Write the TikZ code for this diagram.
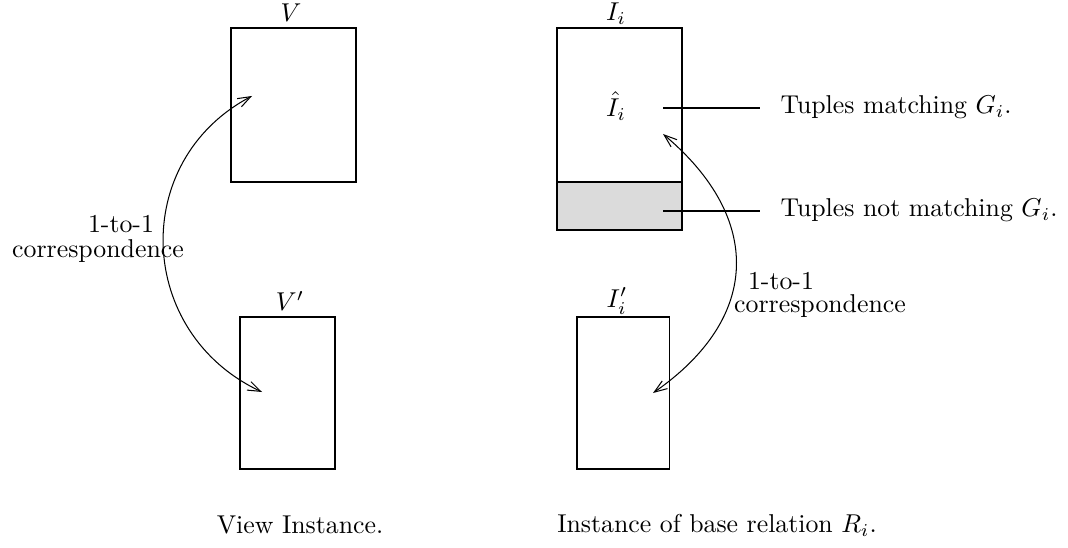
\documentclass[tikz,border=0pt]{standalone}
\usetikzlibrary{arrows.meta}
\begin{document}
\begin{tikzpicture}[x=0.3876pt,y=-0.3876pt,
  >={Straight Barb[length=5pt,width=3.6pt]},
  box/.style={draw, rectangle, inner sep=0pt},
  lbl/.style={inner sep=0pt}]
\useasboundingbox (0,0) rectangle (1068,548);
% view instance
\node[box, minimum width=48.45pt, minimum height=59.69pt] (v) at (293.5,105) {};
\node[box, minimum width=36.82pt, minimum height=58.92pt] (vp) at (287.5,393) {};
\node[lbl] (vl) at (291,13) {$V$};
\node[lbl] (vpl) at (290,301) {$V'$};
% base relation
\node[box, minimum width=48.45pt, minimum height=59.69pt] (ii) at (619.5,105) {};
\node[box, fill=black!14, minimum width=48.45pt, minimum height=18.6pt] (ig) at (619.5,206) {};
\node[box, minimum width=35.66pt, minimum height=58.92pt] (iip) at (623,393) {};
\node[lbl] (iil) at (616,14) {$I_i$};
\node[lbl] (ih) at (616,106) {$\hat{I}_i$};
\node[lbl] (iipl) at (617,301) {$I'_i$};
% tuples
\node[lbl, anchor=west] (tm) at (780,107) {Tuples matching $G_i$.};
\node[lbl, anchor=west] (tn) at (780,210) {Tuples not matching $G_i$.};
\coordinate (m1) at (663,108);
\coordinate (m2) at (760,108);
\coordinate (n1) at (663,211);
\coordinate (n2) at (760,211);
\draw (m1) -- (m2);
\draw (n1) -- (n2);
% correspondences
\coordinate (va) at (252,96);
\coordinate (vb) at (262,392);
\coordinate (ia) at (663,134);
\coordinate (ib) at (653,393);
\draw[<->] (va) .. controls (129,161) and (136,333) .. (vb);
\draw[<->] (ia) .. controls (763,218) and (761,318) .. (ib);
\node[lbl] (c1a) at (121,224) {1-to-1};
\node[lbl] (c1b) at (98,251) {correspondence};
\node[lbl] (c2a) at (781,281) {1-to-1};
\node[lbl] (c2b) at (820,306) {correspondence};
% captions
\node[lbl] (cap1) at (300,525) {View Instance.};
\node[lbl] (cap2) at (717,525) {Instance of base relation $R_i$.};
\end{tikzpicture}
\end{document}
